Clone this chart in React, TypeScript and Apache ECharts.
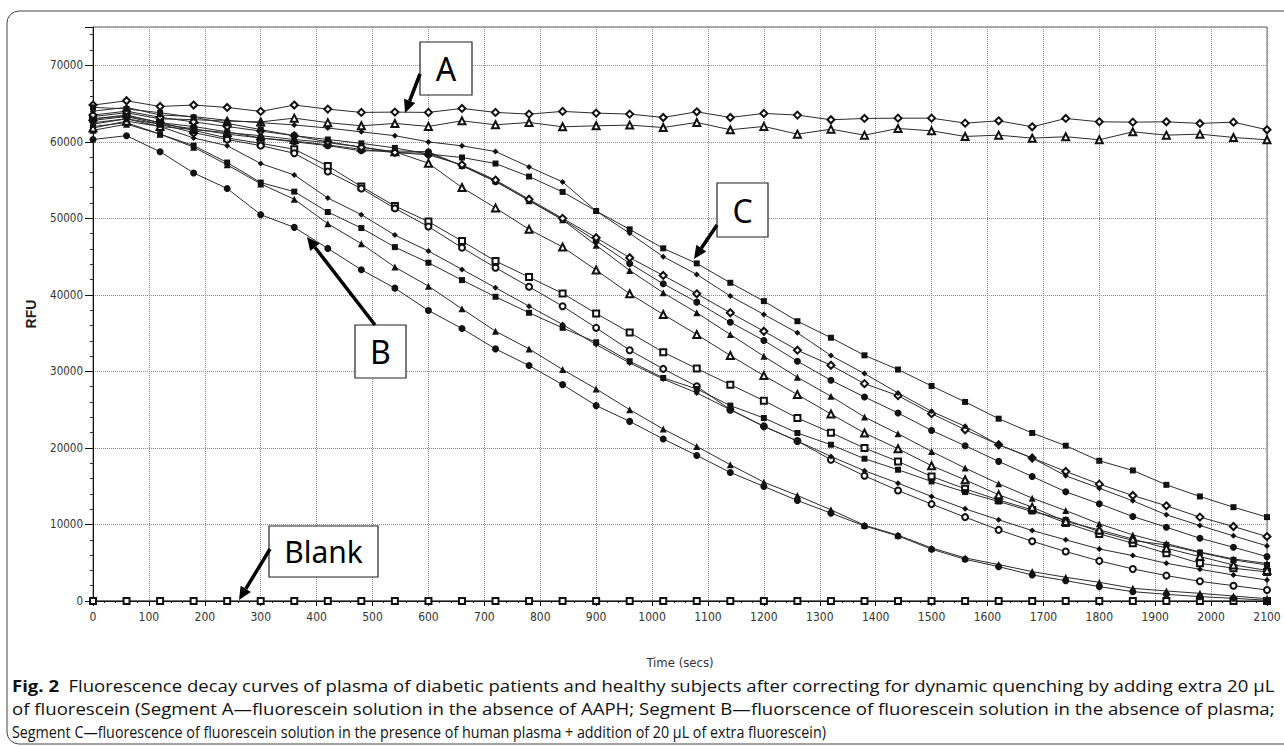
import React, { useEffect, useRef } from 'react';
import * as echarts from 'echarts';

// Time points (secs)
const TIME = [0, 60, 120, 180, 240, 300, 360, 420, 480, 540, 600, 660, 720, 780, 840, 900, 960, 1020, 1080, 1140, 1200, 1260, 1320, 1380, 1440, 1500, 1560, 1620, 1680, 1740, 1800, 1860, 1920, 1980, 2040, 2100];

// Segment A (no AAPH)
const A_DIAMOND = [64800, 65360, 64620, 64800, 64490, 63970, 64800, 64270, 63840, 63880, 63840, 64360, 63840, 63620, 63970, 63750, 63620, 63180, 63920, 63180, 63710, 63490, 62880, 63050, 63090, 63090, 62440, 62740, 61960, 63050, 62610, 62570, 62610, 62400, 62570, 61570];
const A_TRIANGLE = [63300, 63800, 63000, 62900, 62700, 62600, 63090, 62500, 62090, 62400, 62010, 62740, 62220, 62530, 61960, 62090, 62180, 61870, 62530, 61570, 62010, 61000, 61650, 60870, 61740, 61430, 60700, 60870, 60480, 60660, 60260, 61300, 60870, 61000, 60570, 60260];

// Blank
const BLANK = [0, 0, 0, 0, 0, 0, 0, 0, 0, 0, 0, 0, 0, 0, 0, 0, 0, 0, 0, 0, 0, 0, 0, 0, 0, 0, 0, 0, 0, 0, 0, 0, 0, 0, 0, 0];

// Segment B (no plasma)
const B_CIRCLE = [60300, 60800, 58700, 55930, 53890, 50480, 48820, 46070, 43280, 40880, 37960, 35600, 32940, 30760, 28270, 25530, 23470, 21170, 19020, 16800, 14970, 13130, 11480, 9800, 8500, 6770, 5450, 4490, 3400, 2660, 1880, 1220, 870, 570, 350, 100];
const B_TRIANGLE = [61500, 62300, 61000, 59300, 57000, 54500, 52490, 49300, 46690, 43630, 41140, 38180, 35250, 32940, 30240, 27710, 25000, 22470, 20200, 17800, 15530, 13790, 11910, 9900, 8600, 6940, 5630, 4760, 3840, 3100, 2440, 1660, 1310, 1000, 650, 300];

// Segment C (plasma samples)
const C_SQUARE_1 = [64500, 64300, 63800, 63200, 62400, 61600, 60800, 60300, 59800, 59200, 58400, 57950, 57160, 55460, 53450, 50960, 48560, 46080, 44110, 41580, 39180, 36560, 34400, 32100, 30240, 28100, 26010, 23820, 21950, 20290, 18320, 17060, 15180, 13660, 12260, 10960];
const C_DIAMOND_1 = [64000, 64500, 63500, 63300, 62800, 62500, 62200, 61800, 61300, 60800, 59990, 59470, 58730, 56720, 54760, 50960, 48040, 44990, 42670, 39840, 37440, 35040, 32070, 29710, 27180, 24780, 22820, 20420, 18680, 16360, 14740, 13090, 11260, 9860, 8510, 7200];
const C_OPEN_DIAMOND = [63500, 64000, 63200, 62600, 62000, 61400, 60800, 60000, 59300, 58600, 58300, 57000, 55000, 52500, 50000, 47470, 44860, 42540, 40140, 37660, 35250, 32770, 30800, 28400, 26830, 24480, 22380, 20420, 18680, 16930, 15270, 13790, 12440, 10960, 9730, 8420];
const C_CIRCLE = [63000, 63400, 62500, 62000, 61300, 60500, 60000, 59500, 58820, 58800, 58700, 56860, 54800, 52360, 49870, 47040, 44110, 41450, 39050, 36430, 34040, 31330, 28840, 26660, 24570, 22290, 20290, 18240, 16270, 14270, 12700, 11040, 9640, 8200, 7020, 5800];
const C_TRIANGLE = [62300, 63000, 62300, 61700, 61000, 60500, 60100, 59600, 59000, 58600, 58500, 56900, 54900, 52300, 49800, 46470, 43200, 40270, 37660, 34820, 31980, 29230, 26750, 24040, 21860, 19540, 17370, 15320, 13440, 11820, 10080, 8640, 7500, 6400, 5500, 4900];
const C_OPEN_TRIANGLE = [61800, 62700, 62000, 61600, 61200, 60800, 60300, 59900, 59300, 58700, 57200, 54020, 51360, 48560, 46250, 43240, 40140, 37440, 34820, 32070, 29450, 26970, 24430, 21950, 19900, 17670, 15840, 13880, 12260, 10400, 9290, 8100, 6900, 5800, 4710, 4000];
const C_OPEN_SQUARE = [63000, 63500, 62500, 61500, 60500, 59800, 59030, 56850, 54150, 51610, 49570, 47030, 44420, 42320, 40190, 37570, 35080, 32510, 30370, 28270, 26180, 23910, 22000, 19980, 18240, 16270, 14660, 13200, 11900, 10200, 8770, 7550, 6240, 4930, 4280, 3800];
const C_SQUARE_2 = [62000, 62500, 61000, 59500, 57290, 54670, 53490, 50830, 48730, 46240, 44200, 41930, 39750, 37660, 35690, 33800, 31330, 29150, 27710, 25530, 23910, 21950, 20420, 18590, 17150, 15620, 14230, 13000, 11690, 10600, 9070, 7900, 7330, 6330, 5370, 4710];
const C_DIAMOND_2 = [62500, 63000, 62000, 60500, 59500, 57160, 55670, 52660, 50480, 47810, 45720, 43330, 40930, 38520, 36130, 33500, 31100, 29000, 27180, 25000, 22820, 20900, 18890, 17020, 15400, 13660, 12040, 10600, 9210, 7990, 6800, 5930, 4930, 4140, 3400, 2750];
const C_OPEN_CIRCLE = [62800, 63300, 62300, 61200, 60300, 59500, 58500, 56110, 53900, 51300, 48920, 46170, 43550, 41060, 38520, 35690, 32770, 30330, 28050, 25000, 22820, 20900, 18460, 16360, 14440, 12660, 10960, 9290, 7810, 6460, 5240, 4190, 3320, 2570, 2000, 1440];

// Axis texts
const X_NAME = 'Time (secs)';
const Y_NAME = 'RFU';
const CAPTION_BOLD = 'Fig. 2';
const CAPTION_1 = 'Fluorescence decay curves of plasma of diabetic patients and healthy subjects after correcting for dynamic quenching by adding extra 20 µL';
const CAPTION_2 = 'of fluorescein (Segment A—fluorescein solution in the absence of AAPH; Segment B—fluorscence of fluorescein solution in the absence of plasma;';
const CAPTION_3 = 'Segment C—fluorescence of fluorescein solution in the presence of human plasma + addition of 20 µL of extra fluorescein)';

const SERIES = [
  { name: 'A ◇', data: A_DIAMOND, symbol: 'emptyDiamond', size: 7 },
  { name: 'A △', data: A_TRIANGLE, symbol: 'emptyTriangle', size: 7 },
  { name: 'Blank', data: BLANK, symbol: 'emptyRect', size: 6 },
  { name: 'B ●', data: B_CIRCLE, symbol: 'circle', size: 7 },
  { name: 'B ▲', data: B_TRIANGLE, symbol: 'triangle', size: 7 },
  { name: 'C □', data: C_OPEN_SQUARE, symbol: 'emptyRect', size: 6 },
  { name: 'C ○', data: C_OPEN_CIRCLE, symbol: 'emptyCircle', size: 6 },
  { name: 'C ◆2', data: C_DIAMOND_2, symbol: 'diamond', size: 6 },
  { name: 'C ■2', data: C_SQUARE_2, symbol: 'rect', size: 6 },
  { name: 'C △', data: C_OPEN_TRIANGLE, symbol: 'emptyTriangle', size: 7 },
  { name: 'C ▲', data: C_TRIANGLE, symbol: 'triangle', size: 7 },
  { name: 'C ●', data: C_CIRCLE, symbol: 'circle', size: 7 },
  { name: 'C ◇', data: C_OPEN_DIAMOND, symbol: 'emptyDiamond', size: 7 },
  { name: 'C ◆1', data: C_DIAMOND_1, symbol: 'diamond', size: 6 },
  { name: 'C ■1', data: C_SQUARE_1, symbol: 'rect', size: 6 },
];

const FONT_TICK = '"Liberation Sans Narrow", "Arial Narrow", "DejaVu Sans Condensed", sans-serif';
const FONT_CAP = '"Open Sans", "Noto Sans", sans-serif';
const FONT_NOTE = '"Noto Sans", "Open Sans", sans-serif';

function measure(text: string, font: string): number {
  const ctx = document.createElement('canvas').getContext('2d');
  if (!ctx) return text.length * 8;
  ctx.font = font;
  return ctx.measureText(text).width;
}

function arrow(x1: number, y1: number, x2: number, y2: number) {
  const head = 13;
  const half = 6;
  const a = Math.atan2(y2 - y1, x2 - x1);
  const bx = x2 - head * Math.cos(a);
  const by = y2 - head * Math.sin(a);
  const px = -Math.sin(a);
  const py = Math.cos(a);
  return [
    { type: 'line', shape: { x1, y1, x2: bx, y2: by }, style: { stroke: '#000', lineWidth: 3.5 }, z: 100 },
    {
      type: 'polygon',
      shape: { points: [[x2, y2], [bx + px * half, by + py * half], [bx - px * half, by - py * half]] },
      style: { fill: '#000' },
      z: 100,
    },
  ];
}

function noteBox(x: number, y: number, w: number, h: number, label: string, size: number) {
  return [
    { type: 'rect', shape: { x, y, width: w, height: h }, style: { fill: '#fff', stroke: '#222', lineWidth: 1.2 }, z: 100 },
    {
      type: 'text', x: x + w / 2, y: y + h / 2, z: 101,
      style: { text: label, font: `${size}px ${FONT_NOTE}`, fill: '#000', align: 'center', verticalAlign: 'middle' },
    },
  ];
}

export default function App() {
  const ref = useRef<HTMLDivElement>(null);

  useEffect(() => {
    if (!ref.current) return;
    const chart = echarts.init(ref.current, undefined, { renderer: 'svg' });

    const capSize = 16;
    const boldFont = `bold ${capSize}px ${FONT_CAP}`;
    const normFont = `${capSize}px ${FONT_CAP}`;
    const wBold = measure(CAPTION_BOLD, boldFont);
    const gap = 8;
    const w1 = wBold + gap + measure(CAPTION_1, normFont);
    const s1 = 1263 / w1;
    const s2 = 1263 / measure(CAPTION_2, normFont);
    const s3 = 815 / measure(CAPTION_3, normFont);

    const series = SERIES.map((s, k) => ({
      type: 'line',
      name: s.name,
      data: TIME.map((t, i) => [t, s.data[i]]),
      symbol: s.symbol,
      symbolSize: s.size,
      showAllSymbol: true,
      z: 2 + k,
      lineStyle: { color: '#2b2b2b', width: 1 },
      itemStyle: { color: '#111', borderColor: '#222', borderWidth: s.symbol.startsWith('empty') ? 0.8 : 0 },
      emphasis: { disabled: true },
    }));

    const plain = (v: number) => String(v);

    const option: any = {
      animation: false,
      backgroundColor: '#fff',
      grid: { left: 93, right: 17, top: 27, bottom: 145, show: true, borderColor: '#666', borderWidth: 1, containLabel: false },
      xAxis: {
        type: 'value', min: 0, max: 2100, interval: 100,
        name: X_NAME, nameLocation: 'middle', nameGap: 55,
        nameTextStyle: { fontFamily: FONT_TICK, fontSize: 13, color: '#333' },
        axisLine: { lineStyle: { color: '#111', width: 1 } },
        axisTick: { length: 5, lineStyle: { color: '#111' } },
        minorTick: { show: true, splitNumber: 5, length: 2, lineStyle: { color: '#222' } },
        axisLabel: { margin: 10, fontFamily: FONT_TICK, fontSize: 12, color: '#333', formatter: plain },
        splitLine: { show: true, lineStyle: { type: 'dotted', color: '#8a8a8a', width: 1 } },
      },
      yAxis: {
        type: 'value', min: 0, max: 75000, interval: 10000,
        name: Y_NAME, nameLocation: 'middle', nameGap: 55, nameRotate: 90,
        nameTextStyle: { fontFamily: '"Liberation Sans", Arial, sans-serif', fontSize: 14, fontWeight: 'bold', color: '#222' },
        axisLine: { show: true, lineStyle: { color: '#111', width: 1 } },
        axisTick: { show: true, length: 8, lineStyle: { color: '#111' } },
        minorTick: { show: true, splitNumber: 5, length: 3, lineStyle: { color: '#333' } },
        axisLabel: { margin: 10, showMaxLabel: false, fontFamily: FONT_TICK, fontSize: 11.5, color: '#333', formatter: plain },
        splitLine: { show: true, lineStyle: { type: 'dotted', color: '#8a8a8a', width: 1 } },
      },
      series,
      graphic: [
        {
          type: 'rect', shape: { x: 7, y: 11, width: 1300, height: 733, r: 12 },
          style: { fill: 'none', stroke: '#444', lineWidth: 1 }, z: 0, silent: true,
        },
        ...noteBox(420, 42, 52, 53, 'A', 32),
        ...arrow(420, 74, 405, 113),
        ...noteBox(717, 183, 51, 54, 'C', 32),
        ...arrow(717, 225, 694, 259),
        ...noteBox(355, 325, 51, 53, 'B', 32),
        ...arrow(375, 325, 307, 237),
        ...noteBox(269, 526, 109, 51, 'Blank', 30),
        ...arrow(270, 549, 239, 600),
        {
          type: 'group', x: 12, y: 0, scaleX: s1, scaleY: 1,
          children: [
            { type: 'text', x: 0, y: 686, style: { text: CAPTION_BOLD, font: boldFont, fill: '#111', verticalAlign: 'middle' } },
            { type: 'text', x: wBold + gap, y: 686, style: { text: CAPTION_1, font: normFont, fill: '#111', verticalAlign: 'middle' } },
          ],
        },
        {
          type: 'group', x: 12, y: 0, scaleX: s2, scaleY: 1,
          children: [
            { type: 'text', x: 0, y: 709, style: { text: CAPTION_2, font: normFont, fill: '#111', verticalAlign: 'middle' } },
          ],
        },
        {
          type: 'group', x: 12, y: 0, scaleX: s3, scaleY: 1,
          children: [
            { type: 'text', x: 0, y: 732, style: { text: CAPTION_3, font: normFont, fill: '#111', verticalAlign: 'middle' } },
          ],
        },
      ],
    };

    chart.setOption(option);
    return () => chart.dispose();
  }, []);

  return <div ref={ref} style={{ position: 'fixed', left: 0, top: 0, width: 1284, height: 746 }} />;
}
